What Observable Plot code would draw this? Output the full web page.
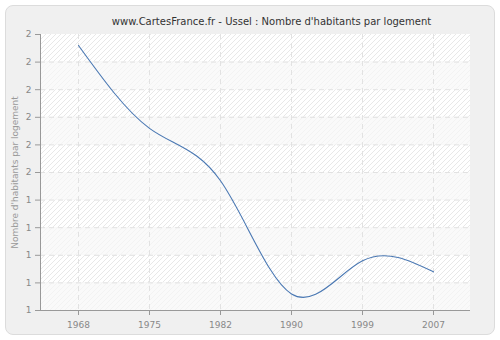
<!DOCTYPE html>
<html><head><meta charset="utf-8">
<script src="https://cdn.jsdelivr.net/npm/d3@7"></script>
<script src="https://cdn.jsdelivr.net/npm/@observablehq/plot@0.6"></script>
<style>
body{margin:0;background:#fff;}
#wrap{position:relative;width:500px;height:340px;overflow:hidden;}
#box{position:absolute;left:5px;top:5px;width:488px;height:328px;background:#f0f0f0;border:1px solid #dcdcdc;border-radius:8px;}
#chart{position:absolute;left:0;top:0;}
</style></head><body>
<div id="wrap"><div id="box"></div><div id="chart"></div></div>
<script>
const title = "www.CartesFrance.fr - Ussel : Nombre d'habitants par logement";
const yLabel = "Nombre d'habitants par logement";
const years = ["1968", "1975", "1982", "1990", "1999", "2007"];
const values = [1.96, 1.66, 1.47, 1.06, 1.18, 1.14];
const yTicks = [1.0, 1.1, 1.2, 1.3, 1.4, 1.5, 1.6, 1.7, 1.8, 1.9, 2.0];

const data = years.map((year, i) => ({year, value: values[i]}));
const bands = yTicks.slice(0, -1).map((t, i) => ({y1: t, y2: yTicks[i + 1], hatched: i % 2 === 1}));

const axisLines = (index, scales, vals, dims) => {
  const g = d3.create("svg:g").attr("stroke", "#999").attr("stroke-width", 1);
  const l = dims.marginLeft, r = dims.width - dims.marginRight;
  const t = dims.marginTop, b = dims.height - dims.marginBottom;
  g.append("line").attr("x1", l + 0.5).attr("x2", l + 0.5).attr("y1", t).attr("y2", b + 0.5);
  g.append("line").attr("x1", l).attr("x2", r).attr("y1", b + 0.5).attr("y2", b + 0.5);
  return g.node();
};

const chart = Plot.plot({
  width: 500,
  height: 340,
  marginLeft: 40,
  marginRight: 30,
  marginTop: 34,
  marginBottom: 30,
  style: {background: "transparent", fontFamily: "DejaVu Sans, sans-serif", fontSize: "9px", color: "#888"},
  x: {type: "point", domain: years, padding: 0.5, label: null},
  y: {domain: [1, 2], label: null},
  marks: [
    Plot.rect(bands.filter(d => d.hatched), {y1: "y1", y2: "y2", fill: "url(#hatch)"}),
    Plot.rect(bands.filter(d => !d.hatched), {y1: "y1", y2: "y2", fill: "url(#hatch2)"}),
    Plot.gridY(yTicks.slice(1, -1), {stroke: "#e2e2e2", strokeOpacity: 1, strokeDasharray: "5,4"}),
    Plot.gridX(years, {stroke: "#e2e2e2", strokeOpacity: 1, strokeDasharray: "5,4"}),
    Plot.line(data, {x: "year", y: "value", curve: "natural", stroke: "#4a78b3", strokeWidth: 1.1}),
    Plot.axisY(yTicks, {tickFormat: d => String(Math.round(d)), tickSize: 5, tickPadding: 4, stroke: "#999", fill: "#888", label: null}),
    Plot.axisX(years, {tickSize: 5, tickPadding: 6, stroke: "#999", fill: "#888", label: null}),
    axisLines,
    Plot.text([yLabel], {frameAnchor: "left", textAnchor: "middle", rotate: -90, dx: -25, fill: "#999", fontSize: 9, text: d => d}),
    Plot.text([title], {frameAnchor: "top", dy: -17, dx: 16, fill: "#333", fontSize: 10, text: d => d})
  ]
});

const defs = d3.create("svg:defs");
function hatch(id, bg, fg) {
  const pat = defs.append("pattern").attr("id", id).attr("patternUnits", "userSpaceOnUse")
    .attr("width", 5).attr("height", 5);
  pat.append("rect").attr("width", 5).attr("height", 5).attr("fill", bg);
  pat.append("path").attr("d", "M-1,1 l2,-2 M0,5 l5,-5 M4,6 l2,-2").attr("stroke", fg).attr("stroke-width", 1);
}
hatch("hatch", "#ffffff", "#e8e8e8");
hatch("hatch2", "#fafafa", "#f3f3f3");
chart.insertBefore(defs.node(), chart.firstChild);
document.getElementById("chart").appendChild(chart);
</script>
</body></html>
